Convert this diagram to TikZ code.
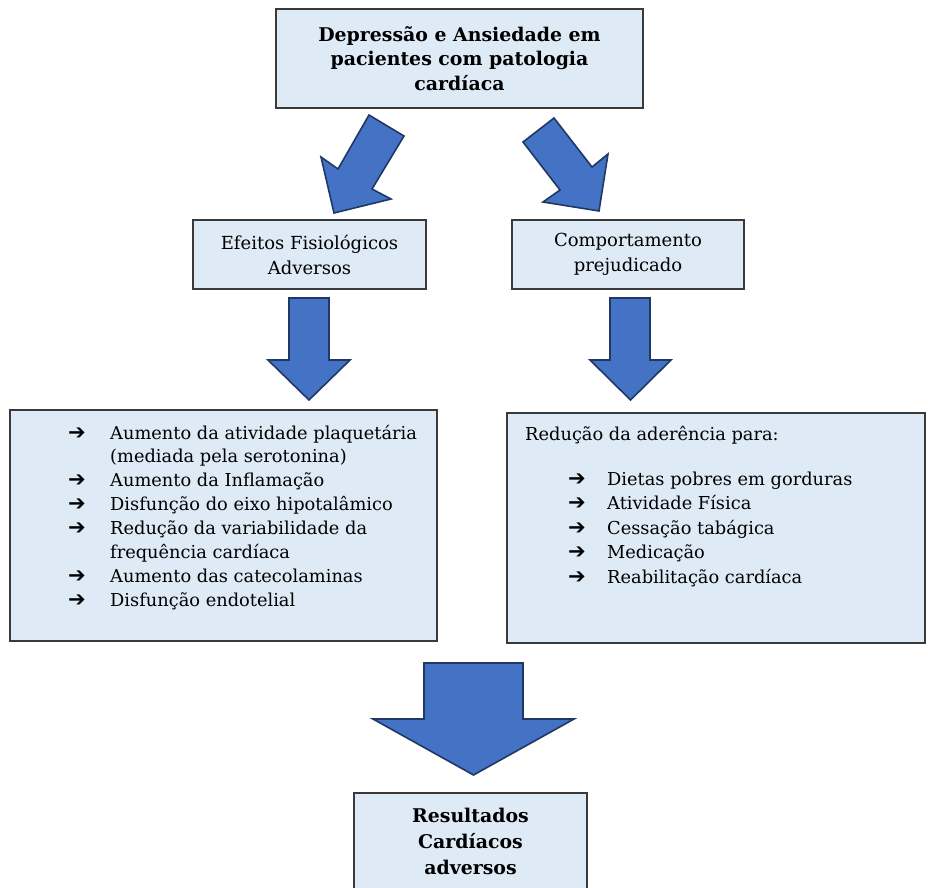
\documentclass[tikz,border=0pt]{standalone}
\usepackage{fontspec}
\setmainfont{DejaVu Serif}
\newfontfamily\symfont{DejaVu Sans}
\definecolor{boxfill}{HTML}{DEEAF6}
\definecolor{boxline}{HTML}{3A3A3A}
\definecolor{arrfill}{HTML}{4472C4}
\definecolor{arrline}{HTML}{1F3864}
\begin{document}
\begin{tikzpicture}[x=1pt,y=-1pt,
  box/.style={draw=boxline, fill=boxfill, line width=1.3pt, inner sep=0pt},
  blockarrow/.style={draw=arrline, fill=arrfill, line width=1.6pt, line join=miter},
  txt/.style={font=\fontsize{17.8}{24}\selectfont, inner sep=0pt, anchor=base west},
  bul/.style={font=\symfont\fontsize{21}{24}\selectfont, inner sep=0pt, anchor=base west},
  ]
\useasboundingbox (0,0) rectangle (928,887);
\begin{scope}
\clip (0,0) rectangle (928,887);
% boxes
\node[box, minimum width=367pt, minimum height=99pt, align=center,
      font=\bfseries\fontsize{18.9}{24.5}\selectfont] (top) at (459.5,58.5)
  {Depressão e Ansiedade em\\pacientes com patologia\\cardíaca};
\node[box, minimum width=233pt, minimum height=69pt, align=center,
      font=\fontsize{18}{25}\selectfont] (efe) at (309.5,254.5)
  {Efeitos Fisiológicos\\Adversos};
\node[box, minimum width=232pt, minimum height=69pt, align=center,
      font=\fontsize{18}{25}\selectfont] (com) at (628,254.5)
  {Comportamento\\prejudicado};
\node[box, minimum width=427pt, minimum height=231pt] (lbox) at (223.5,525.5) {};
\node[box, minimum width=418pt, minimum height=230pt] (rbox) at (716,528) {};
\node[box, minimum width=233pt, minimum height=96pt, align=center,
      font=\bfseries\fontsize{18.9}{26}\selectfont] (res) at (470.5,841)
  {Resultados\\Cardíacos\\adversos};

% block arrows
\draw[blockarrow] (369,115) -- (404,136) -- (372,189) -- (391,199) -- (334,213) -- (321,157) -- (338,169) -- cycle;
\draw[blockarrow] (554,118) -- (592,167) -- (608,154) -- (599,211) -- (543,202) -- (560,190) -- (523,142) -- cycle;
\draw[blockarrow] (289,298) -- (329,298) -- (329,360) -- (350,360) -- (309,400) -- (268,360) -- (289,360) -- cycle;
\draw[blockarrow] (610,298) -- (650,298) -- (650,360) -- (671,360) -- (630.5,400) -- (590,360) -- (610,360) -- cycle;
\draw[blockarrow] (424,663) -- (523,663) -- (523,719) -- (574,719) -- (473.5,775) -- (373,719) -- (424,719) -- cycle;

% left list
\node[bul] (la1) at (68,439) {➔};
\node[txt] (lt1) at (110,439) {Aumento da atividade plaquetária};
\node[txt] (lt1b) at (110,462.9) {(mediada pela serotonina)};
\node[bul] (la2) at (68,486.8) {➔};
\node[txt] (lt2) at (110,486.8) {Aumento da Inflamação};
\node[bul] (la3) at (68,510.7) {➔};
\node[txt] (lt3) at (110,510.7) {Disfunção do eixo hipotalâmico};
\node[bul] (la4) at (68,534.6) {➔};
\node[txt] (lt4) at (110,534.6) {Redução da variabilidade da};
\node[txt] (lt4b) at (110,558.5) {frequência cardíaca};
\node[bul] (la5) at (68,582.4) {➔};
\node[txt] (lt5) at (110,582.4) {Aumento das catecolaminas};
\node[bul] (la6) at (68,606.3) {➔};
\node[txt] (lt6) at (110,606.3) {Disfunção endotelial};

% right list
\node[txt] (rh) at (525,440) {Redução da aderência para:};
\node[bul] (ra1) at (568,485) {➔};
\node[txt] (rt1) at (607,485) {Dietas pobres em gorduras};
\node[bul] (ra2) at (568,509.5) {➔};
\node[txt] (rt2) at (607,509.5) {Atividade Física};
\node[bul] (ra3) at (568,534) {➔};
\node[txt] (rt3) at (607,534) {Cessação tabágica};
\node[bul] (ra4) at (568,558.5) {➔};
\node[txt] (rt4) at (607,558.5) {Medicação};
\node[bul] (ra5) at (568,583) {➔};
\node[txt] (rt5) at (607,583) {Reabilitação cardíaca};
\end{scope}
\end{tikzpicture}
\end{document}
